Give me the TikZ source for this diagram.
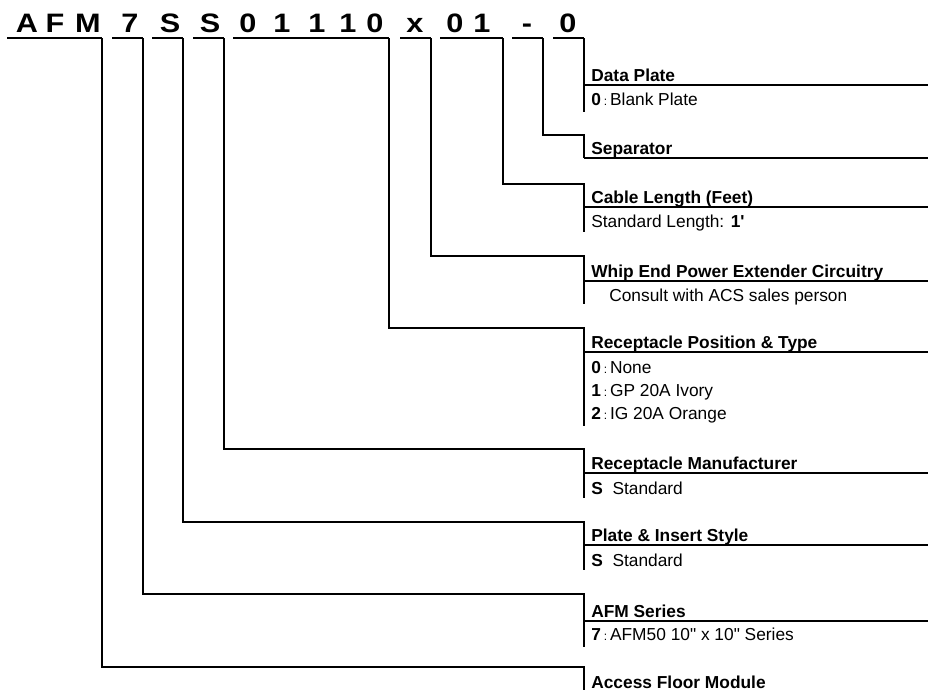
\documentclass[tikz,border=0pt]{standalone}
\usepackage{fontspec}
\setmainfont{Liberation Sans}
\tikzset{
  code/.style={font=\fontsize{20}{20}\selectfont\bfseries,anchor=base,inner sep=0pt},
  title/.style={font=\fontsize{13}{13}\selectfont\bfseries,anchor=base west,inner sep=0pt},
  desc/.style={font=\fontsize{13}{13}\selectfont,anchor=base west,inner sep=0pt},
}
\newcommand{\opt}[2]{\textbf{#1}\,{\fontsize{9}{9}\selectfont:}\,#2}
\begin{document}
\begin{tikzpicture}[x=0.75pt,y=-0.75pt,line width=2pt]
\useasboundingbox (0,0) rectangle (928,690);
\def\bx{584}
\def\tx{590}
% part number, one character at a time
\foreach \c/\x [count=\i] in {A/27,F/55,M/88,7/130,S/170,S/210,0/248,1/282,1/317,1/348,0/375,x/415,0/455,1/482,-/527,0/568}
  \node[code] (ch\i) at (\x,32) {\scalebox{1.15}[1]{\c}};
% bars under the groups
\foreach \n/\a/\b in {afm/7/102,ser/112/143,ins/152/183,mfr/193/224,pos/233/389,whip/400/431,cab/440/503,sep/512/543,dat/553/584}
  \draw (\a,38) -- (\b,38) coordinate (\n);
% leaders down to the boxes
\foreach \n/\k/\e in {dat/38/112,sep/135/158,cab/184/232,whip/256/304,pos/328/426,mfr/449/498,ins/522/570,ser/594/647,afm/667/690}
  \draw (\n) |- (\bx,\k) coordinate (k\n) -- (\bx,\e) coordinate (e\n);
\foreach \u in {85,158,207,281,352,473,545,621}
  \draw (\bx,\u) -- (928,\u);
% texts
\node[title] (tdat) at (\tx,81) {Data Plate};
\node[desc] (ddat) at (\tx,105) {\opt{0}{Blank Plate}};
\node[title] (tsep) at (\tx,154) {Separator};
\node[title] (tcab) at (\tx,203) {Cable Length (Feet)};
\node[desc] (dcab) at (\tx,227) {Standard Length: \textbf{1\textquotesingle}};
\node[title] (twhip) at (\tx,277) {Whip End Power Extender Circuitry};
\node[desc] (dwhip) at (608,301) {Consult with ACS sales person};
\node[title] (tpos) at (\tx,348) {Receptacle Position \& Type};
\node[desc] (dpos0) at (\tx,373) {\opt{0}{None}};
\node[desc] (dpos1) at (\tx,396) {\opt{1}{GP 20A Ivory}};
\node[desc] (dpos2) at (\tx,419) {\opt{2}{IG 20A Orange}};
\node[title] (tmfr) at (\tx,469) {Receptacle Manufacturer};
\node[desc] (dmfr) at (\tx,494) {\textbf{S}\ \ Standard};
\node[title] (tins) at (\tx,541) {Plate \& Insert Style};
\node[desc] (dins) at (\tx,566) {\textbf{S}\ \ Standard};
\node[title] (tser) at (\tx,617) {AFM Series};
\node[desc] (dser) at (\tx,640) {\opt{7}{AFM50 10\textquotedbl{} x 10\textquotedbl{} Series}};
\node[title] (tafm) at (\tx,688) {Access Floor Module};
\end{tikzpicture}
\end{document}
